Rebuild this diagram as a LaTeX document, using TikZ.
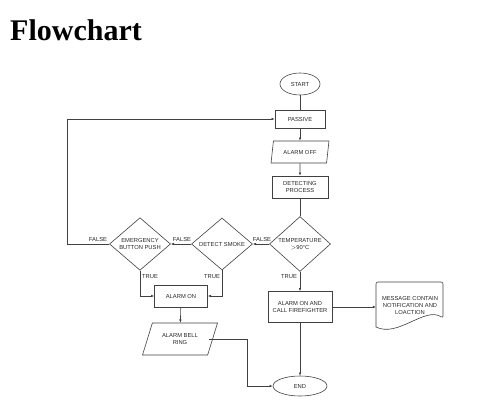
\documentclass[tikz,border=0pt]{standalone}
\usepackage{fontspec}
\setmainfont{Liberation Serif}
\newfontfamily\arialf{Liberation Sans}
\usetikzlibrary{shapes.geometric,arrows.meta}
\definecolor{ln}{HTML}{404040}
\tikzset{
  every node/.style={font=\arialf\fontsize{5.8}{7}\selectfont, text=black!85, align=center},
  box/.style={draw=ln, line width=0.6pt, rectangle, inner sep=1pt},
  term/.style={draw=ln, line width=0.6pt, ellipse, inner sep=0pt},
  para/.style={draw=ln, line width=0.6pt, trapezium, trapezium stretches=true, inner sep=0pt},
  dia/.style={draw=ln, line width=0.6pt, diamond, inner sep=0pt, minimum width=61pt, minimum height=52pt},
  conn/.style={draw=ln, line width=0.6pt},
  arr/.style={conn, -{Latex[length=3.2pt,width=2.6pt]}},
  lbl/.style={font=\arialf\fontsize{5.8}{7}\selectfont}
}
\begin{document}
\begin{tikzpicture}[x=1pt,y=-1pt]
\useasboundingbox (0,0) rectangle (498,405);
\node[anchor=base west, font=\bfseries\fontsize{30}{32}\selectfont, text=black, inner sep=0pt] (title) at (10,40) {Flowchart};

\node[term, minimum width=40pt, minimum height=22pt] (start) at (300,84) {START};
\node[box, minimum width=50pt, minimum height=18pt] (passive) at (300,119) {PASSIVE};
\node[para, trapezium left angle=70, trapezium right angle=110, minimum width=58pt, minimum height=22pt] (off) at (300,152) {ALARM OFF};
\node[box, minimum width=56pt, minimum height=22pt] (detect) at (300,187) {DETECTING\\PROCESS};
\node[dia] (temp) at (300,244) {TEMPERATURE\\$>$90\textdegree C};
\node[dia] (smoke) at (222,244) {DETECT SMOKE};
\node[dia] (emerg) at (140,244) {EMERGENCY\\BUTTON PUSH};
\node[box, minimum width=53pt, minimum height=22pt] (alarmon) at (181,296) {ALARM ON};
\node[para, trapezium left angle=60, trapezium right angle=120, minimum width=75pt, minimum height=32pt] (bell) at (180,339) {ALARM BELL\\RING};
\node[box, minimum width=64pt, minimum height=31pt] (fire) at (300,307) {ALARM ON AND\\CALL FIREFIGHTER};
\draw[conn, rounded corners=2pt] (376,327) -- (376,282) -- (443,282) -- (443,318)
  [sharp corners] .. controls (425,306) and (398,338) .. (376,327);
\node[inner sep=0pt] (doc) at (410,305) {MESSAGE CONTAIN\\NOTIFICATION AND\\LOACTION};
\coordinate (docin) at (376,307);
\node[term, minimum width=54pt, minimum height=20pt] (end) at (300,386) {END};

\coordinate (loopL) at (67,244);
\coordinate (loopT) at (67,119);
\coordinate (bellR) at (247,386);

\draw[conn] (start) -- (passive);
\draw[arr] (passive) -- (off);
\draw[arr] (off) -- (detect);
\draw[conn] (detect) -- (temp);
\draw[arr] (temp.west) -- (smoke.east);
\draw[arr] (smoke.west) -- (emerg.east);
\draw[arr] (emerg.west) -- (loopL) -- (loopT) -- (passive.west);
\draw[arr] (emerg.south) |- (alarmon.west);
\draw[arr] (smoke.south) |- (alarmon.east);
\draw[arr] (alarmon) -- (bell);
\draw[arr] (temp.south) -- (fire.north);
\draw[arr] (fire.east) -- (docin);
\draw[arr] (fire.south) -- (end.north);
\draw[arr] ([xshift=-4pt]bell.east) -| (bellR) -- (end.west);

\node[lbl] (f1) at (98,239) {FALSE};
\node[lbl] (f2) at (182,239) {FALSE};
\node[lbl] (f3) at (262,239) {FALSE};
\node[lbl] (t1) at (150,277) {TRUE};
\node[lbl] (t2) at (212,277) {TRUE};
\node[lbl] (t3) at (289,277) {TRUE};
\end{tikzpicture}
\end{document}
